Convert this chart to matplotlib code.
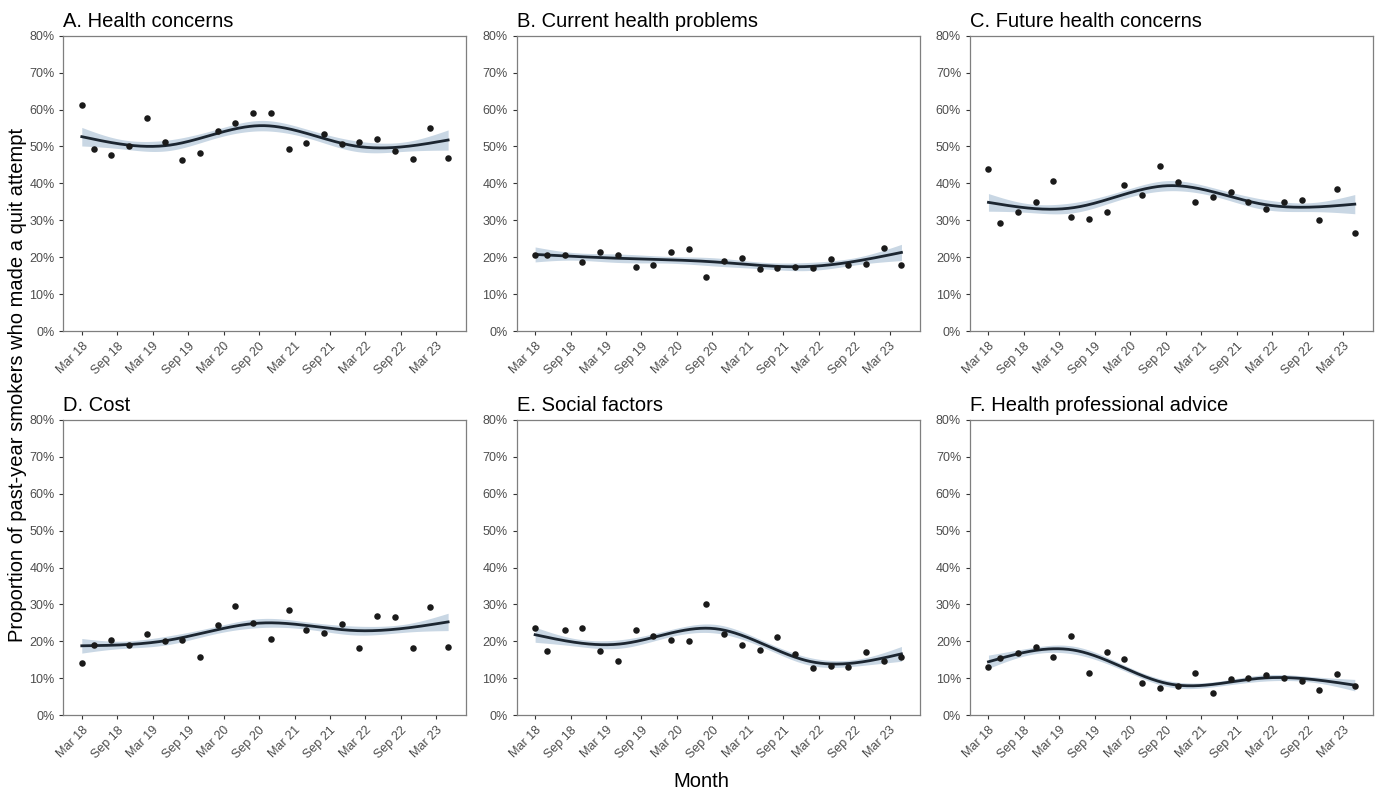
import numpy as np
import matplotlib
matplotlib.use("Agg")
import matplotlib.pyplot as plt
from matplotlib.ticker import PercentFormatter

# survey waves, months since March 2018
months = [0, 2, 5, 8, 11, 14, 17, 20, 23, 26, 29, 32, 35, 38, 41, 44, 47, 50, 53, 56, 59, 62]
# first and last waves only cover part of a quarter
wave_size = [0.33] + [1.0] * 20 + [0.33]
tick_months = [0, 6, 12, 18, 24, 30, 36, 42, 48, 54, 60]
tick_labels = ["Mar 18", "Sep 18", "Mar 19", "Sep 19", "Mar 20", "Sep 20",
               "Mar 21", "Sep 21", "Mar 22", "Sep 22", "Mar 23"]

titles = ["A. Health concerns", "B. Current health problems", "C. Future health concerns",
          "D. Cost", "E. Social factors", "F. Health professional advice"]

health_concerns = [61.3, 49.2, 47.6, 50.0, 57.7, 51.2, 46.4, 48.2, 54.3, 56.4, 59.0,
                   59.0, 49.3, 50.9, 53.3, 50.8, 51.1, 52.0, 48.8, 46.7, 55.0, 46.9]
current_health = [20.7, 20.7, 20.6, 18.8, 21.5, 20.7, 17.3, 18.0, 21.5, 22.2, 14.7,
                  19.1, 19.9, 16.8, 17.0, 17.5, 17.2, 19.5, 17.9, 18.3, 22.5, 18.0]
future_health = [43.9, 29.3, 32.2, 35.0, 40.6, 30.8, 30.5, 32.2, 39.7, 36.9, 44.6,
                 40.3, 34.9, 36.4, 37.6, 34.9, 33.1, 34.9, 35.6, 30.2, 38.5, 26.6]
cost = [14.2, 19.1, 20.3, 19.1, 21.9, 20.2, 20.5, 15.7, 24.5, 29.7, 25.0,
        20.6, 28.6, 23.0, 22.4, 24.7, 18.1, 26.9, 26.5, 18.2, 29.3, 18.6]
social = [23.5, 17.3, 23.0, 23.6, 17.5, 14.6, 23.2, 21.6, 20.5, 20.2, 30.2,
          21.9, 19.1, 17.7, 21.1, 16.5, 12.9, 13.4, 13.1, 17.0, 14.8, 15.9]
hp_advice = [13.2, 15.5, 16.9, 18.6, 15.9, 21.6, 11.5, 17.1, 15.2, 8.8, 7.4,
             7.9, 11.4, 6.0, 9.7, 10.2, 10.8, 10.2, 9.2, 6.9, 11.2, 7.9]

series = [health_concerns, current_health, future_health, cost, social, hp_advice]
n_per_wave = 1100  # approx respondents per full quarter, for the CI band


def rcs_basis(x, knots):
    # restricted (natural) cubic spline basis
    x = np.asarray(x, dtype=float)
    k = len(knots)
    tk, tk1 = knots[-1], knots[-2]
    cols = [np.ones_like(x), x]
    for j in range(k - 2):
        tj = knots[j]
        d = (np.clip(x - tj, 0, None) ** 3
             - np.clip(x - tk1, 0, None) ** 3 * (tk - tj) / (tk - tk1)
             + np.clip(x - tk, 0, None) ** 3 * (tk1 - tj) / (tk - tk1))
        cols.append(d / 100.0)
    return np.column_stack(cols)


def fit_curve(x, y, grid):
    # weighted natural spline fit, boundary knots at the range, inner at quartiles
    knots = np.quantile(x, [0, 0.25, 0.5, 0.75, 1])
    X = rcs_basis(x, knots)
    y = np.asarray(y) / 100
    n = n_per_wave * np.asarray(wave_size)
    w = np.sqrt(n)
    beta, *_ = np.linalg.lstsq(X * w[:, None], y * w, rcond=None)
    p = np.clip(X @ beta, 0.01, 0.99)
    W = n / (p * (1 - p))
    cov = np.linalg.inv(X.T @ (X * W[:, None]))
    G = rcs_basis(grid, knots)
    se = np.sqrt(np.einsum("ij,jk,ik->i", G, cov, G))
    return (G @ beta) * 100, 1.96 * se * 100


plt.rcParams["font.family"] = "Liberation Sans"
fig, axes = plt.subplots(2, 3, figsize=(13.8, 7.93), dpi=100)
fig.subplots_adjust(left=0.046, right=0.995, top=0.955, bottom=0.098, wspace=0.125, hspace=0.3)

grid = np.linspace(min(months), max(months), 300)
for ax, title, vals in zip(axes.flat, titles, series):
    fit, half = fit_curve(months, vals, grid)
    ax.fill_between(grid, fit - half, fit + half, color="#c9d7e4", lw=0, zorder=1)
    ax.plot(grid, fit, color="#1c2631", lw=2, zorder=2)
    ax.scatter(months, vals, s=22, color="#1a1a1a", zorder=3, lw=0)

    ax.set_xlim(-3.1, 65.1)
    ax.set_ylim(0, 80)
    ax.set_yticks(range(0, 81, 10))
    ax.yaxis.set_major_formatter(PercentFormatter(decimals=0))
    ax.set_xticks(tick_months)
    ax.set_xticklabels(tick_labels, rotation=45, ha="right", rotation_mode="anchor")
    ax.tick_params(colors="#333333", labelcolor="#4d4d4d", labelsize=9, length=3, width=0.8)
    for s in ax.spines.values():
        s.set_color("#7f7f7f")
        s.set_linewidth(0.9)
    ax.set_title(title, loc="left", fontsize=14.5, pad=6)

fig.text(0.013, 0.515, "Proportion of past-year smokers who made a quit attempt",
         rotation=90, va="center", ha="center", fontsize=14.5)
fig.text(0.508, 0.015, "Month", ha="center", va="center", fontsize=14.5)

fig.savefig("out.png", dpi=100)
